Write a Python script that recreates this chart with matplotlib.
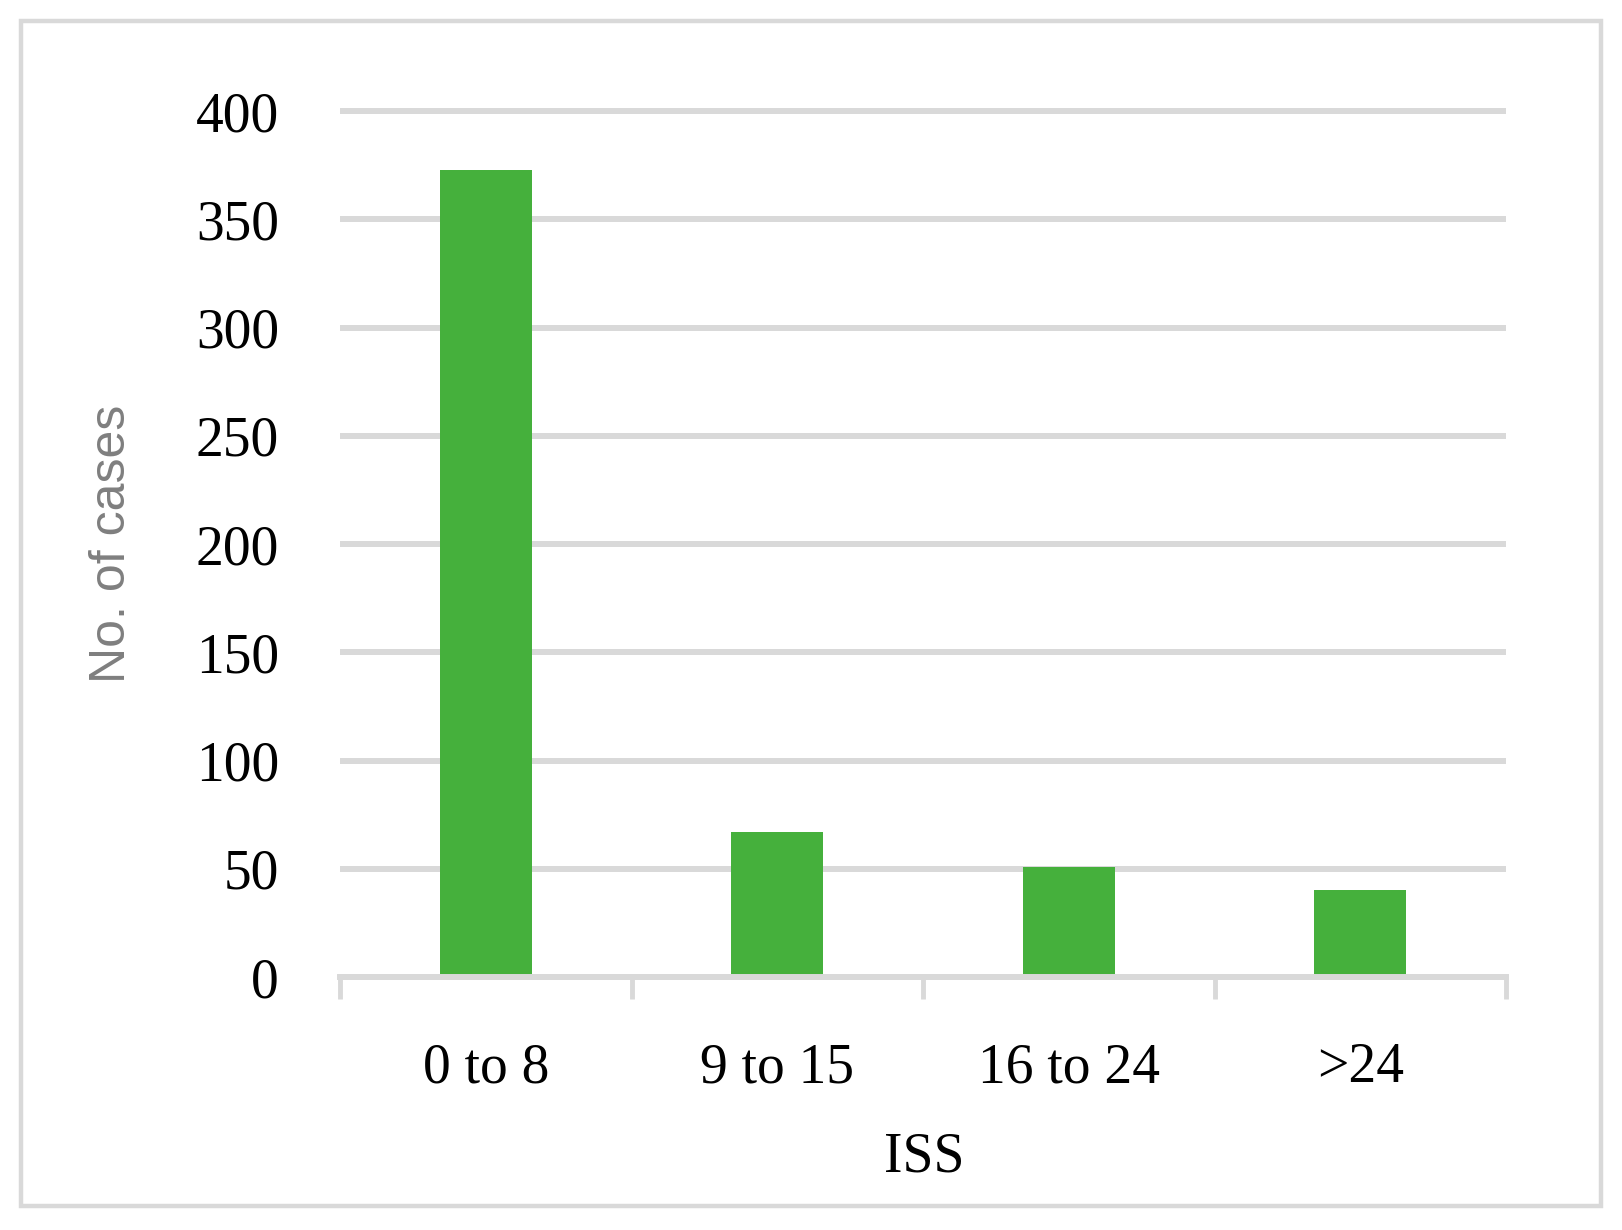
import matplotlib.pyplot as plt
from matplotlib.patches import Rectangle

categorii = ["0 to 8", "9 to 15", "16 to 24", ">24"]
cazuri = [373, 67, 51, 40]
y_ticks = [0, 50, 100, 150, 200, 250, 300, 350, 400]

gri = "#d9d9d9"
verde = "#45b03c"

fig = plt.figure(figsize=(16.22, 12.30), dpi=100)
ax = fig.add_axes([340 / 1622, 253 / 1230, 1166 / 1622, 887.6 / 1230])

poz = list(range(len(categorii)))
ax.bar(poz, cazuri, width=0.315, color=verde, zorder=3)

ax.set_xlim(-0.5, len(categorii) - 0.5)
ax.set_ylim(0, 410)
ax.set_yticks(y_ticks)
ax.set_yticklabels([str(v) for v in y_ticks], family="Liberation Serif", fontsize=40)
ax.tick_params(axis="y", length=0, pad=44)

for v in y_ticks[1:]:
    ax.axhline(v, color=gri, linewidth=4.3, zorder=1)

# ticks at the category boundaries, labels at the centres
ax.set_xticks([i - 0.5 for i in range(len(categorii) + 1)])
ax.set_xticklabels([])
ax.tick_params(axis="x", which="major", length=16, width=3.5, color=gri)
ax.set_xticks(poz, minor=True)
ax.set_xticklabels(categorii, minor=True, family="Liberation Serif", fontsize=40)
ax.tick_params(axis="x", which="minor", length=0, pad=47)

for s in ["top", "right", "left"]:
    ax.spines[s].set_visible(False)
ax.spines["bottom"].set_color(gri)
ax.spines["bottom"].set_linewidth(4.3)
ax.spines["bottom"].set_zorder(4)

fig.text(924 / 1622, 1 - 1158 / 1230, "ISS", family="Liberation Serif", fontsize=40,
         ha="center", va="center")
fig.text(112 / 1622, 1 - 544 / 1230, "No. of cases", family="Liberation Sans", fontsize=36,
         color="#7f7f7f", rotation=90, ha="center", va="center")

fig.patches.append(Rectangle((21 / 1622, 24 / 1230), 1580 / 1622, 1185 / 1230,
                             transform=fig.transFigure, fill=False, edgecolor=gri,
                             linewidth=3.2))

fig.savefig("out.png", dpi=100)
